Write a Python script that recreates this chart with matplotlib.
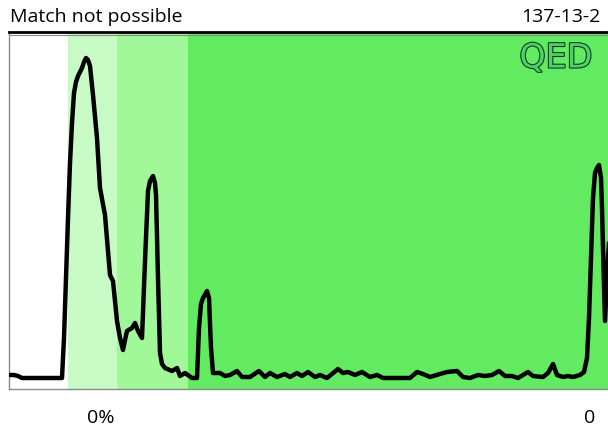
import matplotlib.pyplot as plt
import matplotlib.patheffects as pe

# trace: position along the run and signal height
pos = [10, 14, 18, 22, 30, 45, 62, 64, 66, 68, 70, 72, 74, 76, 78, 82, 84, 86, 88, 90,
       93, 97, 100, 105, 110, 113, 117, 120, 123, 125, 127, 132, 135, 138, 142, 145, 148,
       150, 153, 155, 156, 158, 160, 162, 165, 172, 177, 180, 185, 192, 197, 199, 201,
       203, 207, 209, 211, 213, 217, 220, 225, 230, 237,
       242, 250, 259, 265, 270, 277, 285, 290, 297, 302, 308, 315, 320, 327, 338, 343,
       348, 355, 362, 370, 377, 383, 410, 417, 423, 430, 440, 447, 457, 463, 470, 478,
       485, 492, 499, 505, 512, 518, 528, 533, 543, 548, 553, 557, 563, 568, 573, 580,
       584, 587, 589, 591, 593, 595, 597, 599, 601, 602, 603, 605, 608, 612]
signal = [3, 3, 2, 0, 0, 0, 0, 40, 100, 160, 215, 255, 285, 296, 302, 310, 316, 320, 318,
          312, 283, 240, 190, 163, 103, 97, 57, 40, 28, 38, 47, 50, 55, 47, 40, 117, 187,
          197, 202, 195, 183, 100, 25, 14, 10, 7, 10, 2, 5, 0, 0, 50, 74,
          80, 87, 80, 30, 5, 5, 5, 2, 3, 7,
          1, 1, 7, 1, 5, 1, 4, 1, 5, 2, 6, 1, 3, 0, 9, 5,
          6, 3, 6, 1, 3, 0, 0, 6, 4, 1, 4, 6, 7, 1, 0, 3,
          2, 3, 7, 2, 2, 0, 6, 2, 1, 5, 14, 3, 1, 2, 1, 3,
          6, 20, 60, 120, 180, 205, 210, 213, 200, 170, 130, 57, 120, 180]

# coloured zones along the run
zone_edges = [9, 68, 117, 188, 650]
zone_colors = ['#ffffff', '#c8fac6', '#a0f898', '#62ea60']

fig = plt.figure(figsize=(6.08, 4.35), dpi=100)
ax = fig.add_axes([9 / 608, 45 / 435, 641 / 608, 357 / 435])

for i in range(len(zone_colors)):
    ax.axvspan(zone_edges[i], zone_edges[i + 1], color=zone_colors[i], lw=0, zorder=0)

ax.plot(pos, signal, color='black', lw=3.2, solid_joinstyle='round',
        solid_capstyle='round', zorder=3)

ax.set_xlim(9, 650)
ax.set_ylim(-11, 346)
ax.set_xticks([])
ax.set_yticks([])
for s in ['left', 'bottom']:
    ax.spines[s].set_color('#8a8a8a')
    ax.spines[s].set_linewidth(1)
ax.spines['top'].set_color('black')
ax.spines['top'].set_linewidth(2)
ax.axhline(343, color='#8a8a8a', lw=0.8, zorder=4)

ax.text(556, 320, 'QED', fontsize=24, color='#52d068', ha='center', va='center',
        family='DejaVu Sans', zorder=4,
        path_effects=[pe.withStroke(linewidth=1.6, foreground='#0b3f24')])

fig.text(10 / 608, 1 - 17 / 435, 'Match not possible', fontsize=14, family='Open Sans',
         ha='left', va='center')
fig.text(601 / 608, 1 - 17 / 435, '137-13-2', fontsize=14, family='Open Sans',
         ha='right', va='center')
fig.text(101 / 608, 1 - 418 / 435, '0%', fontsize=14, family='Open Sans',
         ha='center', va='center')
fig.text(590 / 608, 1 - 418 / 435, '0', fontsize=14, family='Open Sans',
         ha='center', va='center')

fig.savefig('out.png', dpi=100)
